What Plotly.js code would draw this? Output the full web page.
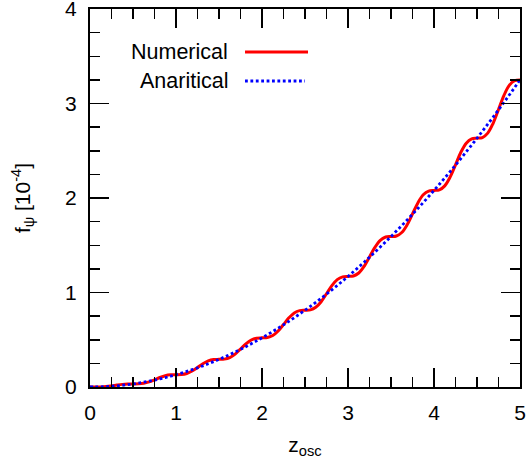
<!DOCTYPE html>
<html>
<head>
<meta charset="utf-8">
<script src="https://cdn.plot.ly/plotly-3.0.1.min.js"></script>
<style>html,body{margin:0;padding:0;background:#fff;}</style>
</head>
<body>
<div id="chart" style="width:530px;height:461px;"></div>
<script>
// z_osc sample positions
var zOsc = [0, 0.0625, 0.125, 0.1875, 0.25, 0.3125, 0.375, 0.4375, 0.5, 0.5625, 0.625, 0.6875, 0.75, 0.8125, 0.875, 0.9375,
  1, 1.0625, 1.125, 1.1875, 1.25, 1.3125, 1.375, 1.4375, 1.5, 1.5625, 1.625, 1.6875, 1.75, 1.8125, 1.875, 1.9375,
  2, 2.0625, 2.125, 2.1875, 2.25, 2.3125, 2.375, 2.4375, 2.5, 2.5625, 2.625, 2.6875, 2.75, 2.8125, 2.875, 2.9375,
  3, 3.0625, 3.125, 3.1875, 3.25, 3.3125, 3.375, 3.4375, 3.5, 3.5625, 3.625, 3.6875, 3.75, 3.8125, 3.875, 3.9375,
  4, 4.0625, 4.125, 4.1875, 4.25, 4.3125, 4.375, 4.4375, 4.5, 4.5625, 4.625, 4.6875, 4.75, 4.8125, 4.875, 4.9375, 5];

// Numerical result (units of 1e-4)
var numerical = [0, 0.0001, 0.0011, 0.0046, 0.0114, 0.0201, 0.0277, 0.0318, 0.0325, 0.0334, 0.0395, 0.0542, 0.0764, 0.1005, 0.1193, 0.1285,
  0.13, 0.1317, 0.1429, 0.1688, 0.2064, 0.2460, 0.2759, 0.2901, 0.2925, 0.2950, 0.3113, 0.3483, 0.4014, 0.4564, 0.4975, 0.5168,
  0.52, 0.5233, 0.5447, 0.5929, 0.6614, 0.7318, 0.7841, 0.8085, 0.8125, 0.8166, 0.8431, 0.9024, 0.9864, 1.0723, 1.1357, 1.1652,
  1.17, 1.1749, 1.2065, 1.2770, 1.3764, 1.4777, 1.5523, 1.5869, 1.5925, 1.5982, 1.6349, 1.7166, 1.8314, 1.9482, 2.0339, 2.0736,
  2.08, 2.0866, 2.1283, 2.2211, 2.3514, 2.4836, 2.5804, 2.6253, 2.6325, 2.6399, 2.6867, 2.7907, 2.9364, 3.0840, 3.1920, 3.2420, 3.25];

// Analytical result (units of 1e-4)
var analytical = [0, 0.0005, 0.0020, 0.0046, 0.0081, 0.0127, 0.0183, 0.0249, 0.0325, 0.0411, 0.0508, 0.0614, 0.0731, 0.0858, 0.0995, 0.1143,
  0.13, 0.1468, 0.1645, 0.1833, 0.2031, 0.2239, 0.2458, 0.2686, 0.2925, 0.3174, 0.3433, 0.3702, 0.3981, 0.4271, 0.4570, 0.4880,
  0.52, 0.5530, 0.5870, 0.6221, 0.6581, 0.6952, 0.7333, 0.7724, 0.8125, 0.8536, 0.8958, 0.9389, 0.9831, 1.0283, 1.0745, 1.1218,
  1.17, 1.2193, 1.2695, 1.3208, 1.3731, 1.4264, 1.4808, 1.5361, 1.5925, 1.6499, 1.7083, 1.7677, 1.8281, 1.8896, 1.9520, 2.0155,
  2.08, 2.1455, 2.2120, 2.2796, 2.3481, 2.4177, 2.4883, 2.5599, 2.6325, 2.7061, 2.7808, 2.8564, 2.9331, 3.0108, 3.0895, 3.1693, 3.25];

var seriesNames = ['Numerical', 'Anaritical'];
var xTickVals = [0, 1, 2, 3, 4, 5];
var yTickVals = [0, 1, 2, 3, 4];

var FONT = 'Liberation Sans, Arial, Helvetica, sans-serif';

var traces = [
  {x: zOsc, y: numerical, type: 'scatter', mode: 'lines', name: seriesNames[0],
   line: {color: '#ff0000', width: 3, shape: 'spline', smoothing: 1}},
  {x: zOsc, y: analytical, type: 'scatter', mode: 'lines', name: seriesNames[1],
   line: {color: '#0000ff', width: 2.8, dash: '2.8px,2.6px', shape: 'spline', smoothing: 1}}
];

function axisBase(range, vals) {
  return {
    range: range, autorange: false, tickmode: 'array', tickvals: vals,
    ticks: 'inside', ticklen: 19, tickwidth: 1.5, tickcolor: '#000',
    showline: true, linewidth: 2, linecolor: '#000', mirror: 'allticks',
    showgrid: false, zeroline: false, fixedrange: true,
    tickfont: {family: FONT, size: 21, color: '#000'},
    ticklabeloverflow: 'allow',
    minor: {dtick: 0.25, tick0: 0, ticks: 'inside', ticklen: 10, tickwidth: 1.5, tickcolor: '#000', showgrid: false}
  };
}

var xaxis = axisBase([0, 5], xTickVals);
xaxis.ticklabelstandoff = 6;
xaxis.title = {text: 'z<sub>osc</sub>', font: {family: FONT, size: 21, color: '#000'}, standoff: 14};
var yaxis = axisBase([0, 4], yTickVals);
yaxis.ticklabelstandoff = 7;
yaxis.title = {text: 'f<sub>ψ</sub> [10<sup>-4</sup>]', font: {family: FONT, size: 21, color: '#000'}, standoff: 29};

var layout = {
  width: 530, height: 461,
  margin: {l: 90, r: 10, t: 9, b: 74},
  paper_bgcolor: '#fff', plot_bgcolor: '#fff',
  showlegend: false,
  xaxis: xaxis, yaxis: yaxis,
  annotations: [
    {text: seriesNames[0], xref: 'paper', yref: 'paper', x: 0.3256, y: 0.886, xanchor: 'right', yanchor: 'middle',
     showarrow: false, font: {family: FONT, size: 21.5, color: '#000'}},
    {text: seriesNames[1], xref: 'paper', yref: 'paper', x: 0.3256, y: 0.8095, xanchor: 'right', yanchor: 'middle',
     showarrow: false, font: {family: FONT, size: 21.5, color: '#000'}}
  ],
  shapes: [
    {type: 'line', xref: 'paper', yref: 'paper', x0: 0.3605, x1: 0.507, y0: 0.886, y1: 0.886,
     line: {color: '#ff0000', width: 3}},
    {type: 'line', xref: 'paper', yref: 'paper', x0: 0.3605, x1: 0.5, y0: 0.8095, y1: 0.8095,
     line: {color: '#0000ff', width: 2.8, dash: '2.8px,2.6px'}}
  ]
};

Plotly.newPlot('chart', traces, layout, {displayModeBar: false, staticPlot: true});
</script>
</body>
</html>
